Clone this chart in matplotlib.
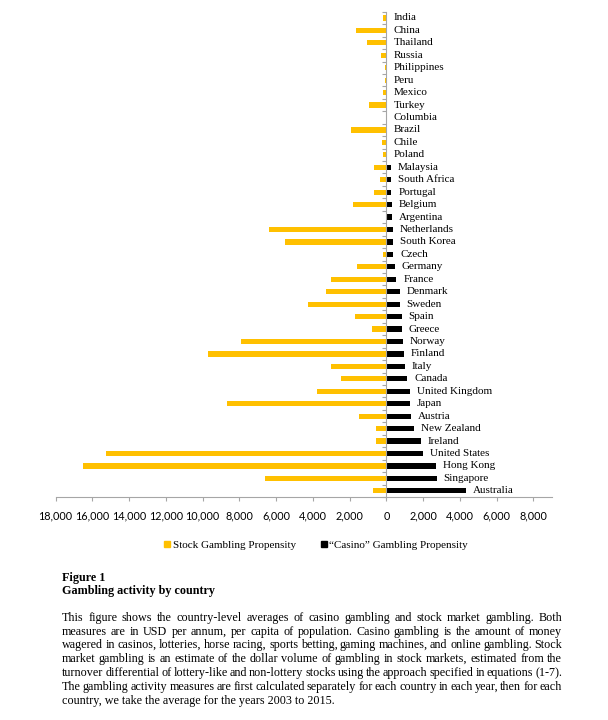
import numpy as np
import matplotlib
matplotlib.use('Agg')
import matplotlib.pyplot as plt
from matplotlib.lines import Line2D

plt.rcParams['font.family'] = 'Liberation Serif'

countries = ['India', 'China', 'Thailand', 'Russia', 'Philippines', 'Peru', 'Mexico',
             'Turkey', 'Columbia', 'Brazil', 'Chile', 'Poland', 'Malaysia', 'South Africa',
             'Portugal', 'Belgium', 'Argentina', 'Netherlands', 'South Korea', 'Czech',
             'Germany', 'France', 'Denmark', 'Sweden', 'Spain', 'Greece', 'Norway',
             'Finland', 'Italy', 'Canada', 'United Kingdom', 'Japan', 'Austria',
             'New Zealand', 'Ireland', 'United States', 'Hong Kong', 'Singapore', 'Australia']
stock = [200, 1650, 1050, 280, 90, 80, 200, 930, 30, 1900, 220, 160, 680, 350, 680,
         1820, 40, 6380, 5500, 200, 1600, 3000, 3290, 4240, 1730, 780, 7930, 9700,
         3000, 2450, 3780, 8700, 1500, 540, 540, 15280, 16530, 6620, 710]
casino = [10, 10, 10, 10, 10, 10, 10, 10, 15, 10, 15, 10, 235, 235, 270, 290, 290,
          340, 340, 380, 470, 540, 730, 730, 835, 835, 910, 960, 1020, 1145, 1270,
          1270, 1330, 1510, 1870, 2000, 2690, 2730, 4330]
xticks = [-18000, -16000, -14000, -12000, -10000, -8000, -6000, -4000, -2000,
          0, 2000, 4000, 6000, 8000]

gold = '#FFC000'
grey = '#a6a6a6'

fig = plt.figure(figsize=(6.08, 7.2), dpi=100)
ax = fig.add_axes([0.0916, 0.3097, 0.8158, 0.674])

y = np.arange(len(countries))
ax.barh(y, -np.array(stock), height=0.42, color=gold)
ax.barh(y, casino, height=0.42, color='black')

for i, name in enumerate(countries):
    ax.annotate(name, (casino[i], i), xytext=(5, 0), textcoords='offset points',
                va='center', ha='left', fontsize=8)

ax.set_xlim(-18000, 9000)
ax.set_ylim(len(countries) - 0.5, -0.5)

ax.set_xticks(xticks)
ax.set_xticklabels([f'{abs(v):,}' for v in xticks], fontfamily='Lato', fontsize=7.8)
ax.tick_params(axis='x', direction='out', length=3, color=grey, pad=7)

ax.set_yticks(np.arange(len(countries) + 1) - 0.5)
ax.set_yticklabels([])
ax.tick_params(axis='y', direction='out', length=3, color=grey)

for s in ['top', 'right']:
    ax.spines[s].set_visible(False)
ax.spines['left'].set_position(('data', 0))
ax.spines['left'].set_color(grey)
ax.spines['bottom'].set_color(grey)

handles = [Line2D([], [], marker='s', color='none', markerfacecolor=gold,
                  markeredgecolor=gold, markersize=4),
           Line2D([], [], marker='s', color='none', markerfacecolor='black',
                  markeredgecolor='black', markersize=4)]
fig.legend(handles, ['Stock Gambling Propensity', '\u201cCasino\u201d Gambling Propensity'],
           loc='center', bbox_to_anchor=(0.52, 0.243), ncol=2, frameon=False,
           fontsize=8, handlelength=0.6, handletextpad=0.2, columnspacing=2.2)

# caption
fig.text(62 / 608, 1 - 581 / 720, 'Figure 1', fontsize=8.7, fontweight='bold', va='baseline')
fig.text(62 / 608, 1 - 594 / 720, 'Gambling activity by country', fontsize=8.7,
         fontweight='bold', va='baseline')

lines = [
    'This figure shows the country-level averages of casino gambling and stock market gambling. Both',
    'measures are in USD per annum, per capita of population. Casino gambling is the amount of money',
    'wagered in casinos, lotteries, horse racing, sports betting, gaming machines, and online gambling. Stock',
    'market gambling is an estimate of the dollar volume of gambling in stock markets, estimated from the',
    'turnover differential of lottery-like and non-lottery stocks using the approach specified in equations (1-7).',
    'The gambling activity measures are first calculated separately for each country in each year, then for each',
    'country, we take the average for the years 2003 to 2015.',
]
x0, x1 = 62, 562
renderer = fig.canvas.get_renderer()
for k, line in enumerate(lines):
    # whole pixel baselines keep the words of a line on one row
    yy = (720 - round(621 + 13.75 * k)) / 720
    if k == len(lines) - 1:
        fig.text(x0 / 608, yy, line, fontsize=8.7, va='baseline')
        continue
    words = line.split(' ')
    texts = [fig.text(0, yy, w, fontsize=8.7, va='baseline') for w in words]
    widths = [t.get_window_extent(renderer).width for t in texts]
    gap = (x1 - x0 - sum(widths)) / (len(words) - 1)
    pos = x0
    for t, w in zip(texts, widths):
        t.set_x(pos / 608)
        pos += w + gap

fig.savefig('out.png', dpi=100)
